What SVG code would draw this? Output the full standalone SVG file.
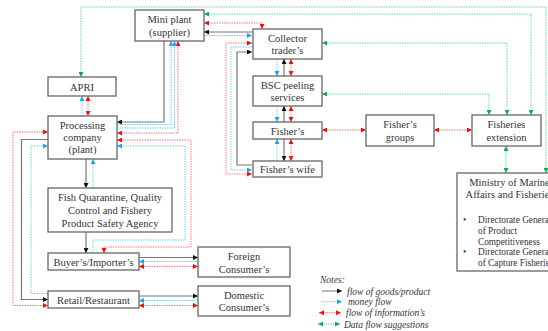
<svg xmlns="http://www.w3.org/2000/svg" width="548" height="331" viewBox="0 0 548 331">
<style>
.n rect{fill:#fff;stroke:#666;stroke-width:1.3}
.n text{font-family:"Liberation Serif","Times New Roman",serif;font-size:10.5px;fill:#333;text-anchor:middle}
.n text.m{font-size:9.3px;text-anchor:start}
.lg{font-family:"Liberation Serif",serif;font-size:9.5px;font-style:italic;fill:#333}
.k{fill:none;stroke:#777;stroke-width:1.2;marker-end:url(#ak)}
.b{fill:none;stroke:#6cd0f5;stroke-width:1;stroke-dasharray:1.5 1;marker-end:url(#ab)}
.r{fill:none;stroke:#f77;stroke-width:1;stroke-dasharray:1.5 1;marker-start:url(#ar);marker-end:url(#ar)}
.g{fill:none;stroke:#6d9;stroke-width:1;stroke-dasharray:1.5 1;marker-start:url(#ag);marker-end:url(#ag)}
</style>
<defs>
<marker id="ak" viewBox="0 0 10 10" refX="10" refY="5" markerWidth="5" markerHeight="5" markerUnits="userSpaceOnUse" orient="auto-start-reverse"><path d="M0,0L10,5L0,10z" fill="#111"/></marker>
<marker id="ab" viewBox="0 0 10 10" refX="10" refY="5" markerWidth="5" markerHeight="5" markerUnits="userSpaceOnUse" orient="auto-start-reverse"><path d="M0,0L10,5L0,10z" fill="#1aa7ec"/></marker>
<marker id="ar" viewBox="0 0 10 10" refX="10" refY="5" markerWidth="5" markerHeight="5" markerUnits="userSpaceOnUse" orient="auto-start-reverse"><path d="M0,0L10,5L0,10z" fill="#e11"/></marker>
<marker id="ag" viewBox="0 0 10 10" refX="10" refY="5" markerWidth="5" markerHeight="5" markerUnits="userSpaceOnUse" orient="auto-start-reverse"><path d="M0,0L10,5L0,10z" fill="#1a5"/></marker>
</defs>
<rect width="548" height="331" fill="#fff"/>
<g id="connectors">
<path class="g" d="M81,77V7H546V173"/>
<path class="g" d="M204,14H531V115"/>
<path class="g" d="M322,43H507V115"/>
<path class="g" d="M322,94H489V115"/>
<path class="g" d="M506,146V173"/>
<path class="r" d="M322,130H366"/>
<path class="r" d="M434,130H472"/>
<path class="r" d="M204,23H262V29"/>
<path class="r" d="M252,43H226V174H252"/>
<path class="r" d="M291,59V76"/>
<path class="r" d="M291,106V122"/>
<path class="r" d="M291,139V161"/>
<path class="r" d="M178,41V133H117"/>
<path class="r" d="M117,140H191V247H104V253"/>
<path class="r" d="M48,132H13V305.5H48"/>
<path class="r" d="M88,96V116"/>
<path class="r" d="M139,266.5H198"/>
<path class="r" d="M139,305.5H198"/>
<path class="b" d="M204,35.5H252"/>
<path class="b" d="M252,47H231V170H252"/>
<path class="b" d="M277,59V76"/>
<path class="b" d="M277,106V122"/>
<path class="b" d="M277,161V139"/>
<path class="b" d="M117,124.5H171V41"/>
<path class="b" d="M117,128H174.5V41"/>
<path class="b" d="M93,253V240H185V146H117"/>
<path class="b" d="M93,188V159"/>
<path class="b" d="M48,293.5H31V146H48"/>
<path class="b" d="M82,116V96"/>
<path class="b" d="M198,261.5H139"/>
<path class="b" d="M198,300.5H139"/>
<path class="k" d="M252,32H204"/>
<path class="k" d="M252,165H237V52H252"/>
<path class="k" d="M284,76V59"/>
<path class="k" d="M284,122V106"/>
<path class="k" d="M284,139V161"/>
<path class="k" d="M164,41V122H117"/>
<path class="k" d="M86,159V188"/>
<path class="k" d="M86,232V253"/>
<path class="k" d="M48,139.5H21.5V299.5H48"/>
<path class="k" d="M139,257.5H198"/>
<path class="k" d="M139,296H198"/>
</g>
<g id="mini-plant" class="n"><rect x="135" y="10" width="69" height="31"/><text x="169.5" y="23">Mini plant</text><text x="169.5" y="36">(supplier)</text></g>
<g id="apri" class="n"><rect x="48" y="77" width="68" height="19"/><text x="82" y="90.5">APRI</text></g>
<g id="processing" class="n"><rect x="48" y="116" width="69" height="43"/><text x="82.5" y="129">Processing</text><text x="82.5" y="141">company</text><text x="82.5" y="153">(plant)</text></g>
<g id="collector" class="n"><rect x="253" y="29" width="69" height="30"/><text x="287.5" y="41.5">Collector</text><text x="287.5" y="54">trader’s</text></g>
<g id="bsc" class="n"><rect x="253" y="76" width="69" height="30"/><text x="287.5" y="88.5">BSC peeling</text><text x="287.5" y="101">services</text></g>
<g id="fishers" class="n"><rect x="253" y="122" width="69" height="17"/><text x="287.5" y="134.5">Fisher’s</text></g>
<g id="fishers-wife" class="n"><rect x="253" y="161" width="69" height="16"/><text x="287.5" y="173">Fisher’s wife</text></g>
<g id="fishers-groups" class="n"><rect x="366" y="115" width="68" height="31"/><text x="400" y="128">Fisher’s</text><text x="400" y="140.5">groups</text></g>
<g id="fisheries-extension" class="n"><rect x="472" y="115" width="69" height="31"/><text x="506.5" y="128">Fisheries</text><text x="506.5" y="140.5">extension</text></g>
<g id="ministry" class="n"><rect x="457" y="173" width="100" height="98"/><text x="509.5" y="186">Ministry of Marine</text><text x="509.5" y="198">Affairs and Fisheries</text>
<text class="m" x="463" y="223">•</text><text class="m" x="478" y="223">Directorate General</text><text class="m" x="478" y="234">of Product</text><text class="m" x="478" y="244.5">Competitiveness</text>
<text class="m" x="463" y="255">•</text><text class="m" x="478" y="255">Directorate General</text><text class="m" x="478" y="266">of Capture Fisheries</text></g>
<g id="quarantine" class="n"><rect x="48" y="188" width="124" height="44"/><text x="110" y="201">Fish Quarantine, Quality</text><text x="110" y="214">Control and Fishery</text><text x="110" y="226.5">Product Safety Agency</text></g>
<g id="buyer" class="n"><rect x="48" y="253" width="91" height="17"/><text x="93.5" y="265.5">Buyer’s/Importer’s</text></g>
<g id="foreign" class="n"><rect x="198" y="247" width="92" height="30"/><text x="244" y="260">Foreign</text><text x="244" y="272.5">Consumer’s</text></g>
<g id="retail" class="n"><rect x="48" y="291" width="91" height="17"/><text x="93.5" y="303.5">Retail/Restaurant</text></g>
<g id="domestic" class="n"><rect x="198" y="286" width="92" height="30"/><text x="244" y="298.5">Domestic</text><text x="244" y="311">Consumer’s</text></g>
<g id="legend">
<text class="lg" x="320" y="282.5">Notes:</text>
<path d="M322,291H342" fill="none" stroke="#777" stroke-width="1" marker-end="url(#ak)"/>
<path d="M322,301.7H342" fill="none" stroke="#6cd0f5" stroke-width="1" stroke-dasharray="1.5 1" marker-end="url(#ab)"/>
<path d="M319,312.7H341" fill="none" stroke="#f77" stroke-width="1" stroke-dasharray="1.5 1" marker-start="url(#ar)" marker-end="url(#ar)"/>
<path d="M318,324H340" fill="none" stroke="#6d9" stroke-width="1" stroke-dasharray="1.5 1" marker-start="url(#ag)" marker-end="url(#ag)"/>
<text class="lg" x="347" y="294.5">flow of goods/product</text>
<text class="lg" x="348" y="305">money flow</text>
<text class="lg" x="346" y="316">flow of information’s</text>
<text class="lg" x="344" y="327.5">Data flow suggestions</text>
</g>
</svg>
